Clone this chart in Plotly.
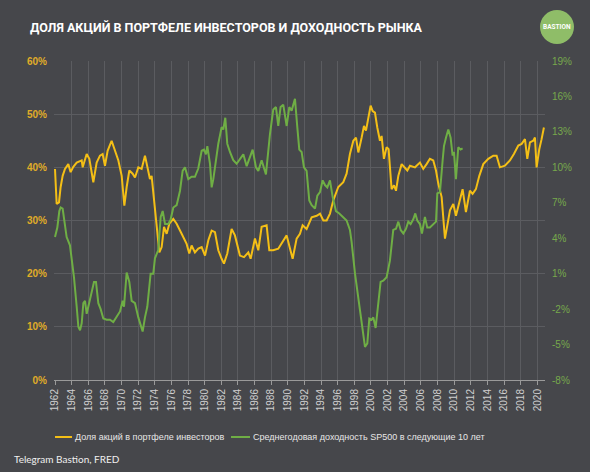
import plotly.graph_objects as go

# ---- data ----
equity_years = [
    1962.00, 1962.20, 1962.48, 1962.68, 1962.92, 1963.20, 1963.60, 1963.88, 1964.20, 1964.61,
    1965.21, 1965.33, 1965.81, 1966.13, 1966.61, 1967.01, 1967.41, 1967.73, 1968.01, 1968.33,
    1968.81, 1969.09, 1969.62, 1970.02, 1970.34, 1970.62, 1970.94, 1971.34, 1971.62, 1972.02,
    1972.42, 1972.82, 1973.10, 1973.42, 1973.62, 1973.94, 1974.22, 1974.55, 1974.83, 1975.11,
    1975.43, 1975.75, 1976.23, 1976.63, 1977.23, 1977.83, 1978.15, 1978.43, 1978.83, 1979.23,
    1979.64, 1980.04, 1980.44, 1980.84, 1981.24, 1981.64, 1982.04, 1982.32, 1982.72, 1983.24,
    1983.64, 1984.24, 1984.73, 1985.25, 1985.53, 1986.05, 1986.45, 1986.85, 1987.45, 1987.77,
    1988.24, 1988.85, 1989.86, 1990.26, 1990.58, 1991.06, 1991.46,
    1991.78, 1992.26, 1992.87, 1993.47, 1993.87, 1994.27, 1994.67, 1995.07, 1995.47, 1996.07,
    1996.67, 1997.07, 1997.47, 1997.88, 1998.20, 1998.48, 1998.88, 1999.16, 1999.40, 1999.68,
    1999.96, 2000.20, 2000.48, 2000.76, 2001.08, 2001.28, 2001.56, 2001.88, 2002.12, 2002.48,
    2002.77, 2003.01, 2003.29, 2003.69, 2004.09, 2004.37, 2004.69, 2005.29, 2005.89, 2006.29,
    2006.69, 2007.09, 2007.49, 2007.82, 2008.10, 2008.50, 2008.90, 2009.18, 2009.50, 2009.90,
    2010.22, 2010.62, 2011.02, 2011.42, 2011.90, 2012.22, 2012.62, 2013.03, 2013.51, 2014.11,
    2014.71, 2015.11, 2015.51, 2016.11, 2016.71, 2017.19, 2017.72, 2018.12, 2018.52, 2018.80,
    2019.12, 2019.52, 2019.72, 2019.92, 2020.24, 2020.52, 2020.80,
]
equity_share = [
    39.7, 33.1, 33.4, 36.3, 38.4, 39.7, 40.6, 39.1, 40.1, 40.9,
    41.3, 40.0, 42.5, 41.6, 37.2, 40.9, 42.2, 42.5, 40.3, 43.1,
    45.0, 43.8, 41.3, 38.4, 32.8, 36.3, 39.4, 38.8, 38.1, 40.0,
    39.7, 42.2, 40.0, 37.8, 38.4, 33.8, 30.0, 24.0, 25.0, 28.8,
    27.5, 29.4, 30.3, 29.4, 27.5, 25.6, 23.8, 25.3, 24.0, 24.7,
    25.0, 23.4, 26.3, 28.1, 27.8, 24.4, 22.8, 21.9, 23.8, 28.4,
    27.2, 23.4, 23.1, 24.0, 22.8, 26.6, 24.4, 28.8, 29.1, 24.4,
    24.4, 24.7, 27.2, 25.0, 22.8, 26.6, 27.5,
    29.1, 28.4, 30.6, 30.9, 31.3, 30.0, 30.0, 31.3, 33.8, 36.3,
    37.2, 38.8, 42.5, 45.0, 45.6, 42.8, 45.6, 47.8, 46.9, 49.7,
    51.6, 50.6, 50.3, 47.5, 45.0, 45.9, 41.6, 43.8, 43.4, 35.9,
    36.6, 35.6, 38.4, 40.6, 40.0, 39.4, 40.3, 40.0, 40.9, 39.7,
    40.6, 41.6, 41.3, 39.4, 36.9, 34.4, 26.6, 29.4, 31.9, 33.1,
    30.9, 33.4, 35.9, 31.6, 35.6, 35.0, 35.9, 38.4, 40.6, 41.6,
    42.2, 42.2, 40.0, 40.3, 41.3, 42.5, 44.1, 44.4, 45.3, 41.6,
    44.7, 45.0, 45.6, 40.0, 43.4, 45.3, 47.5,
]

return_years = [
    1962.00, 1962.28, 1962.52, 1962.68, 1962.92, 1963.20, 1963.40, 1963.80, 1964.00, 1964.28,
    1964.61, 1964.81, 1965.01, 1965.21, 1965.41, 1965.61, 1965.81, 1966.13, 1966.41, 1966.69,
    1966.93, 1967.21, 1967.49, 1967.81, 1968.21, 1968.61, 1969.01, 1969.41, 1969.82, 1970.14,
    1970.30, 1970.62, 1970.94, 1971.22, 1971.62, 1972.02, 1972.54, 1972.82, 1973.10, 1973.50,
    1973.82, 1974.02, 1974.42, 1974.71, 1974.95, 1975.23, 1975.63, 1975.91, 1976.23, 1976.63,
    1977.03, 1977.35, 1977.63, 1978.03, 1978.43, 1978.83, 1979.23, 1979.64, 1979.92, 1980.16,
    1980.32, 1980.64, 1980.84, 1981.04, 1981.36, 1981.64, 1982.04, 1982.24, 1982.48, 1982.72,
    1983.04, 1983.44, 1983.84, 1984.24, 1984.65, 1985.05, 1985.45, 1985.77, 1986.17, 1986.45,
    1986.85, 1987.37, 1987.85, 1988.25, 1988.57, 1988.85, 1989.13, 1989.45, 1989.86, 1990.18,
    1990.46, 1990.86,
    1991.14, 1991.38, 1991.66, 1991.94, 1992.26, 1992.58, 1992.87, 1993.27, 1993.55, 1993.87,
    1994.19, 1994.47, 1994.75, 1995.07, 1995.39, 1995.79, 1996.19, 1996.59, 1997.07, 1997.47,
    1997.67, 1998.08, 1998.48, 1998.76, 1999.00, 1999.28, 1999.56, 1999.80, 2000.08, 2000.28,
    2000.56, 2000.88, 2001.16, 2001.48, 2001.88, 2002.28, 2002.68, 2003.01, 2003.29, 2003.57,
    2003.89, 2004.21, 2004.49, 2004.77, 2005.09, 2005.33, 2005.57, 2005.89, 2006.13, 2006.49,
    2006.77, 2007.09, 2007.49, 2007.82, 2007.98, 2008.30, 2008.62, 2008.78, 2009.02, 2009.30,
    2009.58, 2009.82, 2009.98, 2010.22, 2010.50, 2010.78, 2011.02,
]
sp500_10y_return = [
    4.1, 4.9, 6.3, 6.6, 6.5, 4.9, 4.1, 3.4, 2.4, 0.7,
    -1.8, -3.5, -3.8, -3.2, -1.5, -1.3, -2.4, -1.5, -0.7, 0.3,
    0.3, -1.5, -2.0, -2.8, -2.9, -2.9, -3.1, -2.7, -2.2, -1.3,
    -1.8, 1.1, 0.3, -1.3, -1.5, -2.7, -3.9, -2.7, -1.8, 1.0,
    1.0, 2.3, 3.0, 5.8, 6.3, 5.2, 5.2, 5.6, 6.6, 6.8,
    8.0, 9.7, 10.0, 9.0, 9.2, 9.2, 9.9, 11.4, 11.5, 11.1,
    11.8, 10.3, 8.3, 9.0, 10.7, 12.0, 13.4, 13.2, 14.2, 12.0,
    11.3, 10.6, 10.3, 10.7, 11.1, 10.1, 10.8, 11.5, 10.0, 9.7,
    10.6, 9.4, 12.8, 14.9, 15.1, 13.5, 15.1, 15.3, 13.5, 15.1,
    14.8, 15.8,
    13.4, 11.5, 11.3, 10.0, 9.7, 7.2, 6.8, 6.5, 7.6, 7.9,
    8.9, 8.5, 8.3, 8.9, 7.5, 6.3, 6.1, 5.8, 5.5, 4.7,
    3.7, 1.0, -1.1, -2.4, -4.1, -5.2, -4.9, -2.8, -2.9, -2.7,
    -3.6, -1.5, 0.3, 0.4, 0.7, 2.1, 4.7, 4.8, 5.4, 4.7,
    4.4, 4.8, 5.4, 5.2, 5.6, 6.1, 5.5, 5.2, 4.4, 5.8,
    4.9, 4.9, 5.2, 5.4, 7.8, 7.9, 10.6, 11.8, 12.5, 13.2,
    12.5, 11.0, 11.3, 9.0, 11.7, 11.5, 11.6,
]

x_tick_years = list(range(1962, 2021, 2))
left_ticks = [0, 10, 20, 30, 40, 50, 60]
right_ticks = [-8, -5, -2, 1, 4, 7, 10, 13, 16, 19]

title_text = "ДОЛЯ АКЦИЙ В ПОРТФЕЛЕ ИНВЕСТОРОВ И ДОХОДНОСТЬ РЫНКА"
series_names = ["Доля акций в портфеле инвесторов",
                "Среднегодовая доходность SP500 в следующие 10 лет"]
source_text = "Telegram Bastion, FRED"
logo_text = "BASTION"

# ---- styles ----
BG = "#46474b"
GRID = "#5b5c60"
YELLOW = "#f4bf16"
GREEN = "#6fae45"
GOLD_LBL = "#e0ad28"
GREEN_LBL = "#77a94c"
NARROW = "Roboto, Liberation Sans, sans-serif"

fig = go.Figure()
fig.add_trace(go.Scatter(x=equity_years, y=equity_share, mode="lines",
                         name=series_names[0], line=dict(color=YELLOW, width=2),
                         yaxis="y", showlegend=False))
fig.add_trace(go.Scatter(x=return_years, y=sp500_10y_return, mode="lines",
                         name=series_names[1], line=dict(color=GREEN, width=2),
                         yaxis="y2", showlegend=False))

fig.update_layout(
    width=590, height=472,
    paper_bgcolor=BG, plot_bgcolor=BG,
    margin=dict(l=54, r=45, t=61, b=92),
    xaxis=dict(range=[1961.88, 2020.93], tickvals=x_tick_years,
               ticktext=[str(v) for v in x_tick_years], tickangle=-90,
               showgrid=True, gridcolor=GRID, gridwidth=1,
               showline=True, linecolor="#9a9a9a", linewidth=1,
               ticks="outside", ticklen=4, tickcolor="#9a9a9a",
               tickfont=dict(family="Liberation Sans, Arial, sans-serif", size=10, color="#d0d0d0"),
               zeroline=False),
    yaxis=dict(range=[0, 60], tickvals=left_ticks,
               ticktext=[f"{v}%" for v in left_ticks],
               showgrid=True, gridcolor=GRID, gridwidth=1, zeroline=False,
               ticks="", ticklabelstandoff=6,
               tickfont=dict(family="Liberation Sans, Arial, sans-serif", size=10,
                             color=GOLD_LBL, weight="bold")),
    yaxis2=dict(range=[-8, 19], tickvals=right_ticks,
                ticktext=[f"{v}%" for v in right_ticks],
                overlaying="y", side="right", showgrid=False, zeroline=False,
                ticks="", ticklabelstandoff=6,
                tickfont=dict(family="Liberation Sans, Arial, sans-serif", size=10,
                              color=GREEN_LBL)),
)

# helpers: pixel -> paper coordinates (plot area x 54..545, y 61..380)
PL, PR, PT, PB = 54, 545, 61, 380
def px(x):
    return (x - PL) / (PR - PL)
def py(y):
    return (PB - y) / (PB - PT)

# title
fig.add_annotation(text=title_text, xref="paper", yref="paper", x=px(28), y=py(27),
                   showarrow=False, xanchor="left", yanchor="middle",
                   font=dict(family=NARROW, size=12.5, color="#ffffff", weight="bold"))

# logo
fig.add_shape(type="circle", xref="paper", yref="paper",
              x0=px(540), x1=px(574), y0=py(44), y1=py(10),
              fillcolor="#8fbd68", line=dict(width=0))
fig.add_annotation(text=logo_text, xref="paper", yref="paper", x=px(557), y=py(27),
                   showarrow=False, xanchor="center", yanchor="middle",
                   font=dict(family=NARROW, size=6.5, color="#ffffff", weight="bold"))

# legend (manual)
leg_y = 437
fig.add_shape(type="line", xref="paper", yref="paper", x0=px(55), x1=px(72),
              y0=py(leg_y), y1=py(leg_y), line=dict(color=YELLOW, width=2))
fig.add_annotation(text=series_names[0], xref="paper", yref="paper", x=px(73), y=py(leg_y),
                   showarrow=False, xanchor="left", yanchor="middle",
                   font=dict(family="Liberation Sans, Arial, sans-serif", size=9, color="#e6e6e6"))
fig.add_shape(type="line", xref="paper", yref="paper", x0=px(231), x1=px(250),
              y0=py(leg_y), y1=py(leg_y), line=dict(color=GREEN, width=2))
fig.add_annotation(text=series_names[1], xref="paper", yref="paper", x=px(251), y=py(leg_y),
                   showarrow=False, xanchor="left", yanchor="middle",
                   font=dict(family="Liberation Sans, Arial, sans-serif", size=9, color="#e6e6e6"))

# source
fig.add_annotation(text=source_text, xref="paper", yref="paper", x=px(12), y=py(459),
                   showarrow=False, xanchor="left", yanchor="middle",
                   font=dict(family="Lato, Open Sans, sans-serif", size=10, color="#f0f0f0"))

fig.write_html("out.html", config={"displayModeBar": False},
               post_script="document.body.style.margin='0';")
